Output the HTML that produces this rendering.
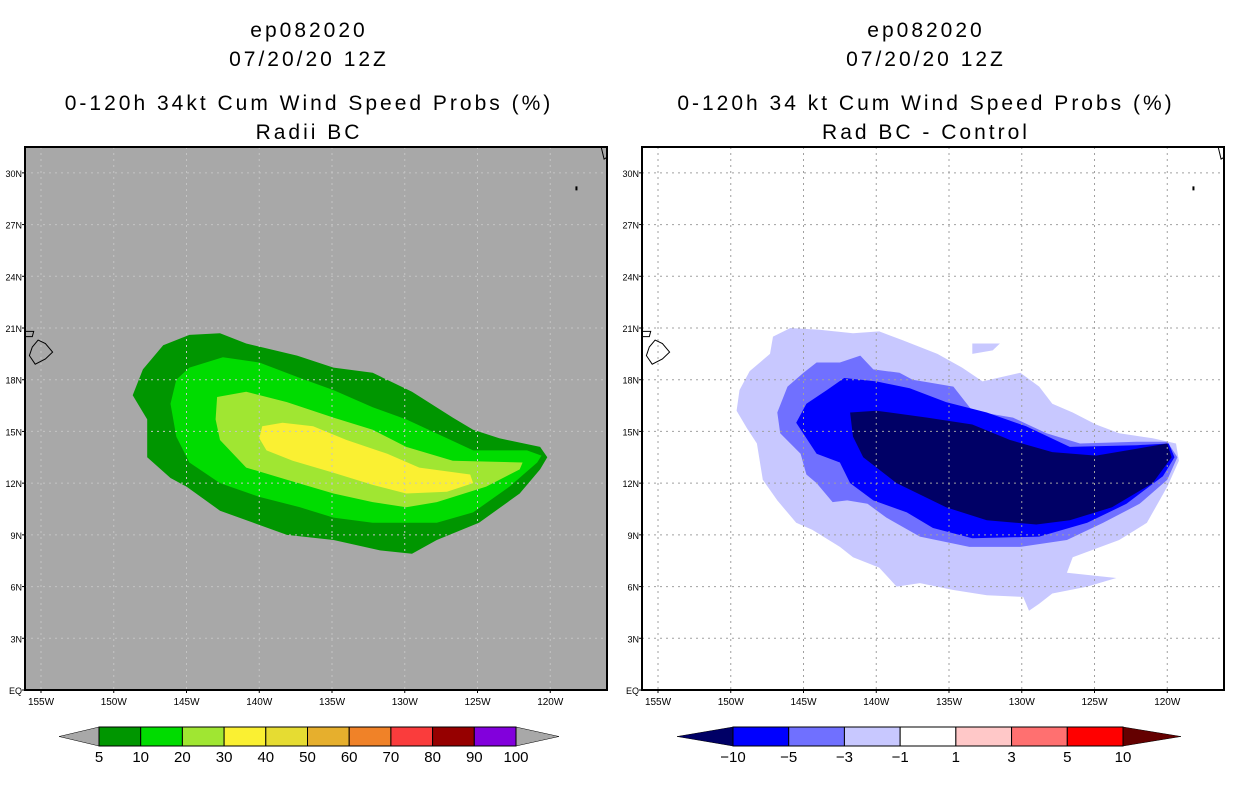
<!DOCTYPE html>
<html><head><meta charset="utf-8"><style>
body{margin:0;background:#fff;width:1236px;height:800px;overflow:hidden}
svg text{font-family:"Liberation Sans",sans-serif}
</style></head><body>
<svg id="chart" width="1236" height="800" xmlns="http://www.w3.org/2000/svg">
<g font-size="21" text-anchor="middle" letter-spacing="3">
<text x="309" y="37">ep082020</text><text x="309" y="66">07/20/20 12Z</text>
<text x="309" y="110">0-120h 34kt Cum Wind Speed Probs (%)</text><text x="309" y="139">Radii BC</text></g>
<g font-size="21" text-anchor="middle" letter-spacing="3">
<text x="926" y="37">ep082020</text><text x="926" y="66">07/20/20 12Z</text>
<text x="926" y="110">0-120h 34 kt Cum Wind Speed Probs (%)</text><text x="926" y="139">Rad BC - Control</text></g>
<g id="panels"></g>
<g id="bars"></g>
</svg>
<script>
const lonTicks=[-155,-150,-145,-140,-135,-130,-125,-120];
const latTicks=[0,3,6,9,12,15,18,21,24,27,30];
const lonTickLabels=["155W","150W","145W","140W","135W","130W","125W","120W"];
const latTickLabels=["EQ","3N","6N","9N","12N","15N","18N","21N","24N","27N","30N"];
// left panel contours [lon,lat]
const prob5=[[-148.7,17.1],[-148.0,18.6],[-146.6,20.0],[-144.8,20.6],[-142.7,20.7],[-140.9,20.1],[-137.4,19.4],[-134.9,18.7],[-132.2,18.4],[-129.5,17.3],[-126.7,15.8],[-125.3,15.1],[-123.5,14.6],[-120.7,14.1],[-120.2,13.5],[-120.7,12.8],[-122.1,11.4],[-124.9,9.7],[-127.8,8.7],[-129.5,7.9],[-131.7,8.1],[-134.9,8.7],[-138.1,9.0],[-140.4,9.7],[-142.7,10.4],[-145.0,11.8],[-146.1,12.3],[-147.7,13.5],[-147.7,15.7]];
const prob10=[[-146.1,16.6],[-145.7,18.0],[-144.8,18.7],[-142.5,19.3],[-140.0,19.0],[-137.2,18.1],[-134.9,17.4],[-132.2,16.4],[-129.9,15.7],[-127.6,14.8],[-125.3,13.9],[-121.6,13.9],[-120.6,13.6],[-120.9,13.2],[-122.8,11.8],[-125.3,10.3],[-127.8,9.7],[-129.9,9.7],[-132.2,9.7],[-134.9,10.0],[-137.2,10.6],[-140.0,11.2],[-142.7,12.0],[-144.8,13.2],[-145.7,14.7]];
const prob20=[[-142.9,17.0],[-140.9,17.3],[-138.1,16.7],[-134.9,15.8],[-132.2,15.1],[-129.9,14.1],[-126.7,13.3],[-121.9,13.2],[-122.1,12.8],[-124.4,11.8],[-127.8,10.9],[-129.9,10.6],[-132.2,10.9],[-134.9,11.4],[-138.1,12.2],[-140.9,12.9],[-142.7,14.5],[-143.0,15.7]];
const prob30=[[-139.8,15.3],[-138.4,15.5],[-136.3,15.3],[-134.0,14.5],[-131.2,13.7],[-129.0,12.9],[-125.5,12.5],[-125.3,12.0],[-127.1,11.5],[-129.9,11.4],[-132.2,11.9],[-134.9,12.6],[-137.7,13.3],[-139.5,13.9],[-140.0,14.6]];
// right panel contours
const diffM1=[[-149.6,16.2],[-149.4,17.4],[-148.7,18.5],[-147.3,19.5],[-147.1,20.5],[-145.9,21.0],[-143.9,20.9],[-141.6,20.7],[-139.8,20.8],[-138.2,20.3],[-135.8,19.5],[-134.1,18.7],[-132.7,17.9],[-130.1,18.4],[-128.8,17.6],[-127.9,16.6],[-126.5,16.1],[-124.9,15.4],[-123.3,14.9],[-121.0,14.6],[-119.4,14.3],[-119.2,13.3],[-120.0,11.8],[-121.4,9.7],[-123.3,8.7],[-126.5,7.7],[-126.9,6.8],[-123.5,6.5],[-125.5,6.0],[-127.9,5.6],[-128.8,5.0],[-129.5,4.6],[-129.9,5.4],[-132.4,5.5],[-134.7,5.8],[-137.0,6.2],[-138.6,6.0],[-139.8,7.1],[-141.6,7.7],[-142.5,8.3],[-144.4,9.3],[-145.5,9.7],[-146.8,11.0],[-147.8,12.2],[-148.2,14.3],[-148.9,15.2]];
const diffM1b=[[-133.4,20.1],[-131.5,20.1],[-132.0,19.7],[-133.4,19.5]];
const diffM3=[[-146.8,16.1],[-146.1,17.6],[-145.0,18.4],[-144.1,19.0],[-142.5,19.0],[-141.1,19.4],[-140.2,18.6],[-138.4,18.4],[-137.5,18.0],[-134.7,17.6],[-133.4,16.2],[-130.6,15.8],[-128.3,14.9],[-126.0,14.3],[-122.1,14.4],[-120.0,14.4],[-119.3,13.5],[-120.0,12.2],[-121.9,10.8],[-124.4,9.7],[-126.9,8.7],[-130.1,8.3],[-133.6,8.3],[-137.0,8.9],[-139.3,10.0],[-140.6,10.8],[-142.0,11.0],[-143.0,10.9],[-144.1,12.0],[-144.8,12.5],[-145.2,13.7],[-146.6,14.9]];
const diffM5=[[-145.5,15.5],[-144.8,16.6],[-143.4,17.4],[-142.2,18.1],[-140.0,17.9],[-137.7,17.5],[-135.2,16.7],[-132.4,16.1],[-129.7,15.3],[-126.7,14.1],[-122.1,14.2],[-119.9,14.3],[-119.5,13.5],[-120.3,12.4],[-122.8,10.8],[-125.5,9.7],[-128.8,8.9],[-133.4,8.8],[-136.1,9.4],[-137.9,10.3],[-140.2,11.0],[-141.8,12.0],[-142.5,13.2],[-144.1,13.7]];
const diffM10=[[-141.8,16.1],[-140.0,16.2],[-136.5,15.8],[-133.4,15.4],[-130.8,14.5],[-127.9,13.8],[-124.9,13.6],[-120.0,14.3],[-119.7,13.5],[-121.0,12.0],[-123.8,10.6],[-126.7,9.85],[-129.0,9.6],[-132.4,9.85],[-135.2,10.6],[-138.6,12.0],[-140.9,13.5],[-141.6,14.7]];
const hawaii=[[-155.2,20.3],[-154.7,20.1],[-154.2,19.6],[-154.7,19.2],[-155.4,18.9],[-155.8,19.4],[-155.6,19.9]];
const maui=[[-156.1,20.8],[-155.5,20.8],[-155.6,20.5],[-156.1,20.5]];
const leftBarLabels=["5","10","20","30","40","50","60","70","80","90","100"];
const leftBarColors=["#009600","#00dc00","#a0e632","#faf032","#e6dc32","#e6af2d","#f08228","#fa3c3c","#960000","#8200dc"];
const rightBarLabels=["-10","-5","-3","-1","1","3","5","10"];
const rightBarColors=["#0000ff","#7070ff","#c8c8ff","#ffffff","#ffc8c8","#ff7070","#ff0000"];

const NS="http://www.w3.org/2000/svg";
function mk(tag,attrs,parent){const e=document.createElementNS(NS,tag);for(const k in attrs)e.setAttribute(k,attrs[k]);parent.appendChild(e);return e;}
const LON0=-156.1,LON1=-116.1,LAT0=0,LAT1=31.5,W=582,H=543,TOP=147;
function panel(left,bg,grid,layers,name){
  const g=mk('g',{},document.getElementById('panels'));
  
  
  const xs=lon=>left+(lon-LON0)/(LON1-LON0)*W, ys=lat=>TOP+H-(lat-LAT0)/(LAT1-LAT0)*H;
  const bgr=mk('rect',{x:left,y:TOP,width:W,height:H,fill:bg},g);
  
  
  layers.forEach(([pts,col,nm])=>{
    const p=mk('polygon',{points:pts.map(q=>xs(q[0]).toFixed(1)+','+ys(q[1]).toFixed(1)).join(' '),fill:col},g);
    
    
  });
  lonTicks.forEach((lo,i)=>{
    const l=mk('line',{x1:xs(lo),x2:xs(lo),y1:TOP,y2:TOP+H,stroke:grid,'stroke-dasharray':'2,4'},g);
    
    
    const t=mk('text',{x:xs(lo),y:TOP+H+15,'font-size':10,'text-anchor':'middle'},g);t.textContent=lonTickLabels[i];
    
    
    mk('line',{x1:xs(lo),x2:xs(lo),y1:TOP+H,y2:TOP+H+3,stroke:'#000'},g);
  });
  latTicks.forEach((la,i)=>{
    if(la>0){const l=mk('line',{x1:left,x2:left+W,y1:ys(la),y2:ys(la),stroke:grid,'stroke-dasharray':'2,4'},g);
    
    }
    const t=mk('text',{x:left-3,y:ys(la)+4,'font-size':9,'text-anchor':'end'},g);t.textContent=latTickLabels[i];
    
    
    mk('line',{x1:left-3,x2:left,y1:ys(la),y2:ys(la),stroke:'#000'},g);
  });
  [hawaii,maui].forEach(pts=>{
    const p=mk('polygon',{points:pts.map(q=>xs(q[0]).toFixed(1)+','+ys(q[1]).toFixed(1)).join(' '),fill:'none',stroke:'#000','stroke-width':1},g);
    
    
  });
  mk('path',{d:`M${xs(-116.5)},${TOP} L${xs(-116.3)},${ys(30.8)} L${xs(-116.1)},${ys(30.9)}`,fill:'none',stroke:'#000'},g);
  mk('rect',{x:xs(-118.2)-1,y:ys(29.1)-2,width:2,height:4,fill:'#000'},g);
  const fr=mk('rect',{x:left,y:TOP,width:W,height:H,fill:'none',stroke:'#000','stroke-width':2},g);
  
  
}
panel(25,'#a8a8a8','#c4c4c4',[[prob5,'#009600','contour-5pct'],[prob10,'#00dc00','contour-10pct'],[prob20,'#a0e632','contour-20pct'],[prob30,'#faf032','contour-30pct']],'left-map');
panel(642,'#ffffff','#a0a0a0',[[diffM1,'#c8c8ff','contour-minus1'],[diffM1b,'#c8c8ff','contour-minus1-patch'],[diffM3,'#7070ff','contour-minus3'],[diffM5,'#0000ff','contour-minus5'],[diffM10,'#000066','contour-minus10']],'right-map');

function colorbar(x0,x1,tl,tr,colors,labels,lc,rc,name){
  const g=mk('g',{},document.getElementById('bars'));
  
  
  const y0=727,y1=746,ym=736.5,w=(x1-x0)/colors.length;
  mk('polygon',{points:`${tl},${ym} ${x0},${y0} ${x0},${y1}`,fill:lc,stroke:'#000','stroke-width':0.5},g);
  mk('polygon',{points:`${tr},${ym} ${x1},${y0} ${x1},${y1}`,fill:rc,stroke:'#000','stroke-width':0.5},g);
  colors.forEach((c,i)=>{
    const r=mk('rect',{x:x0+i*w,y:y0,width:w,height:y1-y0,fill:c,stroke:'#000','stroke-width':1},g);
    
    
  });
  labels.forEach((s,i)=>{
    const t=mk('text',{x:x0+i*w,y:762,'font-size':15,'text-anchor':'middle'},g);t.textContent=s.replace('-','\u2212');
    
    
  });
}
colorbar(99,516,59,559,leftBarColors,leftBarLabels,'#a8a8a8','#a8a8a8','left-colorbar');
colorbar(733,1123,677,1181,rightBarColors,rightBarLabels,'#000066','#640000','right-colorbar');
</script>
</body></html>
